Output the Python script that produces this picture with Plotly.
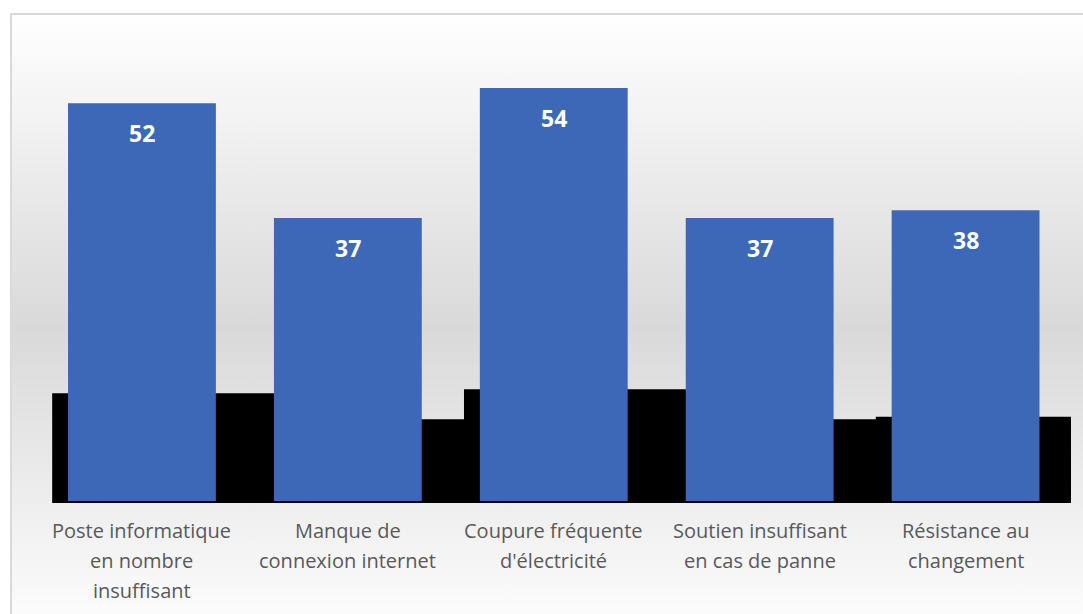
import base64
import plotly.graph_objects as go

# Categories and values
categories = [
    "Poste informatique<br>en nombre<br>insuffisant",
    "Manque de<br>connexion internet",
    "Coupure fréquente<br>d'électricité",
    "Soutien insuffisant<br>en cas de panne",
    "Résistance au<br>changement",
]
values = [52, 37, 54, 37, 38]
shadow_values = [14.1, 10.7, 14.6, 10.7, 11.0]

# Layout geometry (pixels)
W, H = 1083, 614
M_L, M_R, M_T, M_B = 39, 12, 40, 111
Y_MIN, Y_MAX = -0.26, 60.26
X_MIN, X_MAX = -0.5, 4.512

plot_w = W - M_L - M_R
plot_h = H - M_T - M_B

# Chart-area background: vertical white -> grey -> white gradient with a thin frame
bg_x0, bg_y0, bg_w, bg_h = 10, 13, 1080, 630
svg = f"""<svg xmlns='http://www.w3.org/2000/svg' width='{bg_w}' height='{bg_h}' viewBox='0 0 {bg_w} {bg_h}' preserveAspectRatio='none'>
<defs><linearGradient id='g' x1='0' y1='0' x2='0' y2='1'>
<stop offset='0' stop-color='#ffffff'/>
<stop offset='0.5' stop-color='#d9d9d9'/>
<stop offset='1' stop-color='#ffffff'/>
</linearGradient></defs>
<rect x='0' y='0' width='{bg_w}' height='{bg_h}' fill='url(#g)'/>
<path d='M1 {bg_h} L1 1 L{bg_w} 1' fill='none' stroke='#d9d9d9' stroke-width='2'/>
</svg>"""
bg_src = "data:image/svg+xml;base64," + base64.b64encode(svg.encode("utf-8")).decode()

x_idx = list(range(len(categories)))

fig = go.Figure()

# Dark shadow series behind the main bars
fig.add_trace(go.Bar(
    x=x_idx,
    y=[v - Y_MIN for v in shadow_values],
    base=Y_MIN,
    offset=-0.436,
    width=1.1,
    marker=dict(color="#000000", line=dict(width=0)),
    hoverinfo="skip",
    showlegend=False,
))

# Main series
fig.add_trace(go.Bar(
    x=x_idx,
    y=values,
    width=0.718,
    marker=dict(color="#3c68b7", line=dict(width=0)),
    showlegend=False,
))

# Value labels inside the top of each bar
for i, v in enumerate(values):
    fig.add_annotation(
        x=i, y=v, text=f"<b>{v}</b>", showarrow=False,
        yanchor="middle", yshift=-30,
        font=dict(family="Open Sans", size=23, color="#ffffff"),
    )

# Category labels under the axis, one line at a time for a 30px line pitch
LINE_PITCH = 30
FIRST_LINE = 27
for i, cat in enumerate(categories):
    for k, line in enumerate(cat.split("<br>")):
        fig.add_annotation(
            x=i, xref="x", y=0, yref="paper", text=line, showarrow=False,
            yanchor="middle", yshift=-(FIRST_LINE + k * LINE_PITCH),
            font=dict(family="Open Sans", size=20, color="#595959"),
        )

fig.add_layout_image(dict(
    source=bg_src,
    xref="paper", yref="paper",
    x=(bg_x0 - M_L) / plot_w,
    y=(H - M_B - bg_y0) / plot_h,
    sizex=bg_w / plot_w,
    sizey=bg_h / plot_h,
    xanchor="left", yanchor="top",
    sizing="stretch",
    layer="below",
))

fig.update_layout(
    width=W, height=H,
    margin=dict(l=M_L, r=M_R, t=M_T, b=M_B, pad=0),
    paper_bgcolor="#ffffff",
    plot_bgcolor="rgba(0,0,0,0)",
    barmode="overlay",
    showlegend=False,
    font=dict(family="Open Sans", color="#595959"),
    xaxis=dict(
        range=[X_MIN, X_MAX],
        showticklabels=False,
        showgrid=False, zeroline=False, showline=False,
        ticks="",
    ),
    yaxis=dict(
        range=[Y_MIN, Y_MAX],
        visible=False,
        showgrid=False, zeroline=False,
    ),
)

fig.write_html("out.html")
